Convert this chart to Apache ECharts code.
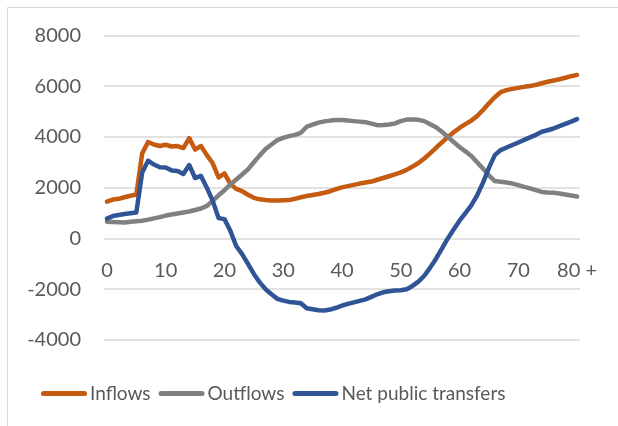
<!DOCTYPE html>
<html>
<head>
<meta charset="utf-8">
<script src="https://cdn.jsdelivr.net/npm/echarts@6/dist/echarts.min.js"></script>
<style>
  html, body { margin: 0; padding: 0; background: #ffffff; }
  #chart { width: 618px; height: 426px; }
</style>
</head>
<body>
<div id="chart"></div>
<script>
// Age groups 0 to 80+
const ages = Array.from({ length: 80 }, (_, i) => String(i)).concat('80 +');

// Per-capita public transfer inflows by age
const inflows = [
  1450, 1530, 1560, 1620, 1680, 1730, 3350, 3800, 3700, 3640,
  3690, 3620, 3640, 3560, 3950, 3500, 3640, 3280, 2960, 2400,
  2560, 2150, 1950, 1860, 1720, 1600, 1540, 1510, 1490, 1490,
  1500, 1510, 1560, 1620, 1670, 1710, 1750, 1800, 1860, 1940,
  2010, 2060, 2110, 2160, 2200, 2240, 2310, 2380, 2450, 2520,
  2600, 2700, 2830, 2970, 3150, 3350, 3570, 3780, 3990, 4180,
  4350, 4500, 4640, 4820, 5060, 5320, 5560, 5760, 5840, 5890,
  5930, 5970, 6000, 6050, 6110, 6170, 6220, 6270, 6330, 6390,
  6440
];

// Per-capita public transfer outflows by age
const outflows = [
  660, 650, 640, 630, 660, 680, 700, 740, 790, 840,
  900, 940, 980, 1020, 1060, 1120, 1180, 1280, 1480, 1700,
  1900, 2120, 2320, 2520, 2720, 3000, 3270, 3520, 3700, 3870,
  3960, 4030, 4080, 4160, 4400, 4480, 4560, 4610, 4640, 4660,
  4660, 4640, 4620, 4600, 4580, 4520, 4460, 4470, 4490, 4530,
  4620, 4680, 4680, 4670, 4620, 4500, 4380, 4200, 4000, 3800,
  3600, 3430, 3250, 3000, 2750, 2480, 2260, 2230, 2200, 2160,
  2100, 2030, 1970, 1900, 1830, 1810, 1800, 1770, 1730, 1690,
  1650
];

// Net public transfers by age
const netTransfers = [
  780, 880, 920, 960, 990, 1020, 2600, 3060, 2910, 2800,
  2790, 2680, 2660, 2540, 2890, 2380, 2460, 2000, 1480, 800,
  760, 300, -300, -620, -1000, -1400, -1730, -2000, -2200, -2380,
  -2450, -2500, -2520, -2550, -2750, -2790, -2830, -2840, -2800, -2730,
  -2650, -2580, -2520, -2460, -2400, -2300, -2200, -2120, -2080, -2050,
  -2040, -2000, -1870, -1700, -1470, -1150, -800, -400, 0, 350,
  700, 1000, 1300, 1700, 2200, 2780, 3280, 3480, 3580, 3680,
  3780, 3880, 3980, 4080, 4200, 4260, 4330, 4420, 4510, 4600,
  4700
];

const yTicks = { min: -4000, max: 8000, step: 2000 };

const FONT = 'Lato, "Open Sans", sans-serif';
const TEXT = '#595959';
const capsule = 'path://M2.5,0H43.5A2.5,2.5 0 0 1 43.5,5H2.5A2.5,2.5 0 0 1 2.5,0Z';

// grid geometry; the category labels hang from the zero line
const GRID_TOP = 35.3;
const GRID_BOTTOM = 86;
const PLOT_H = 426 - GRID_TOP - GRID_BOTTOM;
const zeroShift = -PLOT_H * (0 - yTicks.min) / (yTicks.max - yTicks.min);

function lineSeries(name, data, color) {
  return {
    name: name,
    type: 'line',
    data: data,
    showSymbol: false,
    symbol: 'none',
    smooth: false,
    lineStyle: { color: color, width: 4.5, cap: 'round', join: 'round' },
    itemStyle: { color: color },
    emphasis: { disabled: true }
  };
}

const chart = echarts.init(document.getElementById('chart'), null, { renderer: 'canvas' });
chart.setOption({
  animation: false,
  backgroundColor: '#ffffff',
  textStyle: { fontFamily: FONT },
  graphic: [{
    type: 'rect',
    shape: { x: 7.5, y: 7.5, width: 700, height: 500 },
    style: { fill: 'none', stroke: '#d9d9d9', lineWidth: 1 },
    silent: true
  }],
  grid: { left: 104, right: 38, top: GRID_TOP, bottom: GRID_BOTTOM, containLabel: false },
  xAxis: {
    type: 'category',
    data: ages,
    boundaryGap: true,
    offset: zeroShift,
    axisLine: { show: false, onZero: false },
    axisTick: { show: false },
    axisLabel: {
      interval: 9,
      color: TEXT,
      fontSize: 20,
      fontFamily: FONT,
      margin: 22
    },
    splitLine: { show: false }
  },
  yAxis: {
    type: 'value',
    min: yTicks.min,
    max: yTicks.max,
    interval: yTicks.step,
    axisLine: { show: false },
    axisTick: { show: false },
    axisLabel: {
      color: TEXT, fontSize: 20, fontFamily: FONT, margin: 23,
      formatter: (v) => String(v)
    },
    splitLine: { lineStyle: { color: '#d9d9d9', width: 1.5 } }
  },
  legend: {
    left: 41,
    top: 384,
    padding: 0,
    icon: capsule,
    itemWidth: 46,
    itemHeight: 5,
    itemGap: 8,
    textStyle: { color: TEXT, fontSize: 19, fontFamily: FONT, padding: [0, 0, 0, -2] },
    data: ['Inflows', 'Outflows', 'Net public transfers']
  },
  series: [
    lineSeries('Inflows', inflows, '#C55A11'),
    lineSeries('Outflows', outflows, '#808080'),
    lineSeries('Net public transfers', netTransfers, '#2F5597')
  ]
});
</script>
</body>
</html>
